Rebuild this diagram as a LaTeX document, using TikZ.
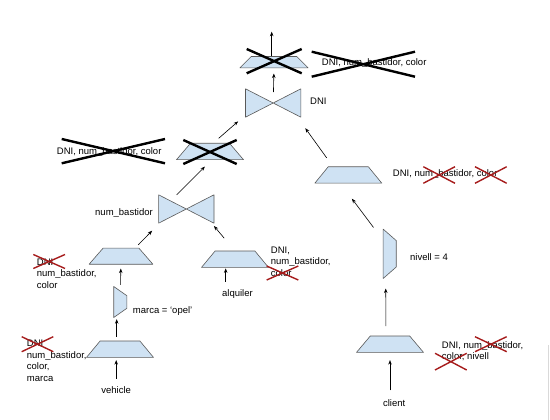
\documentclass[tikz,border=0pt]{standalone}
\usepackage{fontspec}
\setmainfont{Liberation Sans}
\usepackage{xcolor}
\usetikzlibrary{arrows.meta}

\definecolor{opfill}{HTML}{CFE2F3}
\definecolor{opline}{HTML}{595959}
\definecolor{crossred}{HTML}{A61C1C}

% operator symbols drawn over empty box nodes
\newcommand\joinshape[1]{\filldraw[opdraw] (#1.north west) -- (#1.south east) -- (#1.north east) -- (#1.south west) -- cycle;}
\newcommand\projshape[2]{\filldraw[opdraw] (#2.south west) -- (#2.south east) -- ([xshift=-#1pt]#2.north east) -- ([xshift=#1pt]#2.north west) -- cycle;}
\newcommand\selshape[2]{\filldraw[opdraw] (#2.north west) -- ([yshift=-#1pt]#2.north east) -- ([yshift=#1pt]#2.south east) -- (#2.south west) -- cycle;}
% crossing out
\newcommand\crossit[5]{\draw[#1] (#2,#3) -- (#4,#5) (#2,#5) -- (#4,#3);}

\begin{document}
\begin{tikzpicture}[x=1pt,y=-1pt,
  font=\fontsize{9.5}{11.5}\selectfont,
  opdraw/.style={fill=opfill, draw=opline, line width=0.6pt, line join=round},
  proj/.style={minimum width=66.6pt, minimum height=16pt, inner sep=0pt},
  sel/.style={minimum width=12.7pt, inner sep=0pt},
  joinbox/.style={minimum width=55pt, minimum height=28pt, inner sep=0pt},
  lbl/.style={inner sep=0pt, anchor=west, align=left},
  src/.style={inner sep=1pt, outer sep=6.7pt},
  arr/.style={-{Stealth[length=4.5pt,width=3.5pt]}, line width=0.6pt},
  bigx/.style={line width=2.4pt, black},
  redx/.style={line width=1.4pt, crossred}
]
\useasboundingbox (0,0) rectangle (550,420);

% operators
\node[proj, minimum width=68pt, minimum height=11pt] (p0) at (274,62.2) {};
\node[joinbox] (j1) at (273.2,103) {};
\node[proj] (p1) at (210,151.5) {};
\node[joinbox] (j2) at (186.3,209) {};
\node[proj] (p2) at (348.3,175) {};
\node[sel, minimum height=49pt] (s2) at (389.7,253.8) {};
\node[proj] (p5) at (390,344.2) {};
\node[proj, minimum width=63.4pt, minimum height=15.7pt] (p3) at (121,256.2) {};
\node[proj] (p4) at (235,259.2) {};
\node[sel, minimum height=30.6pt] (s1) at (120.3,302) {};
\node[proj] (p6) at (120,349.2) {};

\projshape{11.4}{p0}
\joinshape{j1}
\projshape{14}{p1}
\joinshape{j2}
\projshape{13.4}{p2}
\selshape{11.5}{s2}
\projshape{13.8}{p5}
\projshape{14}{p3}
\projshape{13.6}{p4}
\selshape{9.2}{s1}
\projshape{13.6}{p6}

% tables
\node[src] (vehicle) at (116.2,389.7) {vehicle};
\node[src] (alquiler) at (237.5,294) {alquiler};
\node[src] (client) at (394.2,403.5) {client};

% attribute labels
\node[lbl] (t0) at (321.7,63.3) {DNI, num\_bastidor, color};
\node[lbl] (t1) at (310,101.7) {DNI};
\node[lbl] (t2) at (56.7,152.3) {DNI, num\_bastidor, color};
\node[lbl] (t3) at (392.7,174.3) {DNI, num\_bastidor, color};
\node[lbl] (t4) at (95,213.3) {num\_bastidor};
\node[lbl] (t5) at (36.7,273.7) {DNI\\num\_bastidor,\\color};
\node[lbl] (t6) at (270.7,261.3) {DNI,\\num\_bastidor,\\color};
\node[lbl] (t7) at (132.7,311) {marca = ‘opel’};
\node[lbl] (t8) at (410,256.7) {nivell = 4};
\node[lbl] (t9) at (26.7,360.7) {DNI\\num\_bastidor,\\color,\\marca};
\node[lbl] (t10) at (441.7,351) {DNI, num\_bastidor,\\color, nivell};

% arrows
\coordinate (out) at (271.7,31.7);
\draw[arr] ([xshift=-2.3pt]p0.north) -- (out);
\draw[arr, shorten <=11pt, shorten >=5.6pt] (j1.center) -- (p0.south);
\draw[arr, shorten <=7.5pt, shorten >=6.4pt] ([xshift=3pt]p1.north) -- ([xshift=-2.6pt]j1.south west);
\draw[arr, shorten <=11pt, shorten >=13.5pt] ([xshift=-15.2pt]p2.north) -- ([xshift=-3.5pt]j1.south east);
\draw[arr, shorten >=9.8pt] ([xshift=-9.6pt]j2.north) -- ([xshift=1.8pt]p1.south);
\draw[arr, shorten <=4.7pt, shorten >=10.5pt] ([xshift=14pt]p3.north) -- ([xshift=0.9pt]j2.south west);
\draw[arr, shorten <=16.8pt, shorten >=3.6pt] (p4.north) -- ([xshift=-2.4pt]j2.south east);
\draw[arr, shorten <=1.7pt, shorten >=4.3pt] (s1) -- (p3);
\draw[arr, shorten <=4.3pt, shorten >=1.7pt] ([xshift=-3.3pt]p6.north) -- ([xshift=-3.3pt]p6.north |- s1.south);
\draw[arr, shorten >=2.7pt] (vehicle.north) -- (vehicle.north |- p6.south);
\draw[arr, shorten >=1pt] ([xshift=-11.8pt]alquiler.north) -- ([xshift=-11.8pt]alquiler.north |- p4.south);
\draw[arr, shorten <=2pt, shorten >=7.7pt] ([xshift=-4.2pt]client.north) -- ([xshift=-4.2pt]client.north |- p5.south);
\draw[arr, shorten <=10pt, shorten >=10pt] ([xshift=-4pt]p5.north) -- ([xshift=-4pt]s2.south);
\draw[arr, shorten <=2pt, shorten >=19.4pt] ([xshift=-15pt]s2.north) -- ([xshift=-8pt]p2.south);

% crossed out
\crossit{bigx}{246.7}{49}{301.7}{73.3}
\crossit{bigx}{311.7}{51.7}{415}{76.7}
\crossit{bigx}{61.7}{139}{165}{163.3}
\crossit{bigx}{183.3}{140}{236.7}{164}
\crossit{redx}{423.3}{166.7}{455}{183.3}
\crossit{redx}{475}{166.7}{506.7}{183.3}
\crossit{redx}{33.3}{254.5}{65}{268.5}
\crossit{redx}{266.7}{266}{298.3}{280}
\crossit{redx}{21.7}{336.7}{53.3}{351.7}
\crossit{redx}{475}{336.7}{506.7}{351.7}
\crossit{redx}{435}{353.3}{466.7}{370}

\draw[gray!30, line width=0.8pt] (548,345) -- (548,420);
\end{tikzpicture}
\end{document}
